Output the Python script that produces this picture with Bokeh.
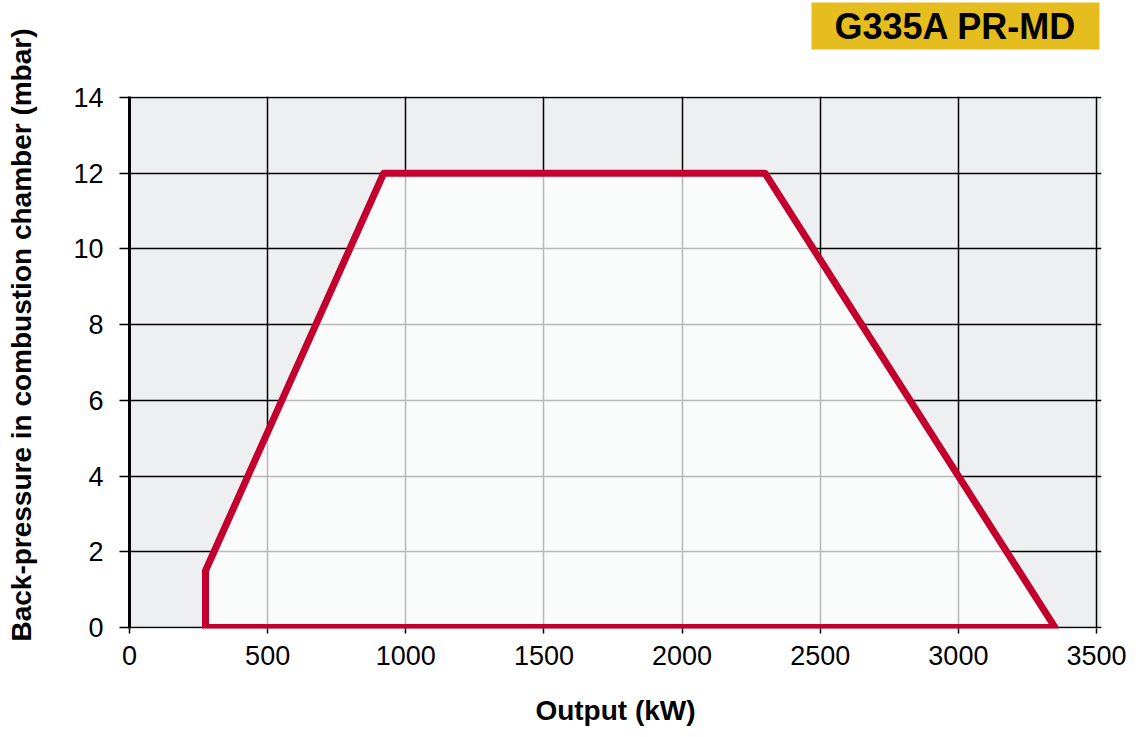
from bokeh.plotting import figure
from bokeh.models import Range1d, FixedTicker, Title
from bokeh.embed import file_html
from bokeh.resources import INLINE

# Data
output_kw = [275, 275, 920, 2300, 3350, 275]
back_pressure = [0, 1.5, 12, 12, 0, 0]
x_ticks = [0, 500, 1000, 1500, 2000, 2500, 3000, 3500]
y_ticks = [0, 2, 4, 6, 8, 10, 12, 14]
badge_text = "G335A PR-MD"
x_label = "Output (kW)"
y_label = "Back-pressure in combustion chamber (mbar)"

FONT = "Liberation Sans"
RED = "#C3002D"

p = figure(width=1127, height=729, output_backend="svg", toolbar_location=None,
           x_range=Range1d(0, 3518), y_range=Range1d(-0.026, 14.026),
           min_border_left=129, min_border_right=26, min_border_top=96,
           min_border_bottom=101)
p.background_fill_color = "#EEEFF1"
p.border_fill_color = "white"
p.outline_line_color = None

# grids
p.xaxis.ticker = FixedTicker(ticks=x_ticks)
p.yaxis.ticker = FixedTicker(ticks=y_ticks)
for g in (p.xgrid, p.ygrid):
    g.grid_line_color = "black"
    g.grid_line_width = 1.5
    g.grid_line_alpha = 1.0

# envelope
p.patch(output_kw, back_pressure, fill_color="white", fill_alpha=0.72, line_color=None)
p.line(output_kw, back_pressure, line_color=RED, line_width=7, line_join="round", line_cap="round")

# axes
p.xaxis.axis_line_color = None
p.xaxis.major_tick_out = 5
p.xaxis.major_tick_in = 0
p.xaxis.major_tick_line_width = 1.5
p.xaxis.minor_tick_line_color = None
p.xaxis.major_label_standoff = 12
p.xaxis.axis_label = x_label
p.xaxis.axis_label_standoff = 27

p.yaxis.axis_line_width = 3
p.yaxis.axis_line_color = "black"
p.yaxis.major_tick_out = 10
p.yaxis.major_tick_in = 0
p.yaxis.major_tick_line_width = 1.5
p.yaxis.minor_tick_line_color = None
p.yaxis.major_label_standoff = 16

for ax in (p.xaxis, p.yaxis):
    ax.major_label_text_font = FONT
    ax.major_label_text_font_size = "27px"
    ax.major_label_text_color = "black"
    ax.axis_label_text_font = FONT
    ax.axis_label_text_font_size = "28px"
    ax.axis_label_text_font_style = "bold"
    ax.axis_label_text_color = "black"

# y label as a left title (shifted up like the reference)
ytitle = Title(text=y_label, align="right", offset=-68, standoff=0,
               padding=dict(left=0, right=0, top=0, bottom=34),
               text_font=FONT, text_font_size="28px", text_font_style="bold",
               text_color="black")
p.add_layout(ytitle, "left")

# spacer between frame and badge, then the badge
spacer = Title(text=" ", standoff=44, text_font_size="1px")
p.add_layout(spacer, "above")
badge = Title(text=badge_text, align="right", standoff=0, offset=2,
              text_font=FONT, text_font_size="36px", text_font_style="bold",
              text_color="black", background_fill_color="#E5BD1F",
              padding=(23, 3))
p.add_layout(badge, "above")

open("out.html", "w").write(file_html(p, INLINE))
